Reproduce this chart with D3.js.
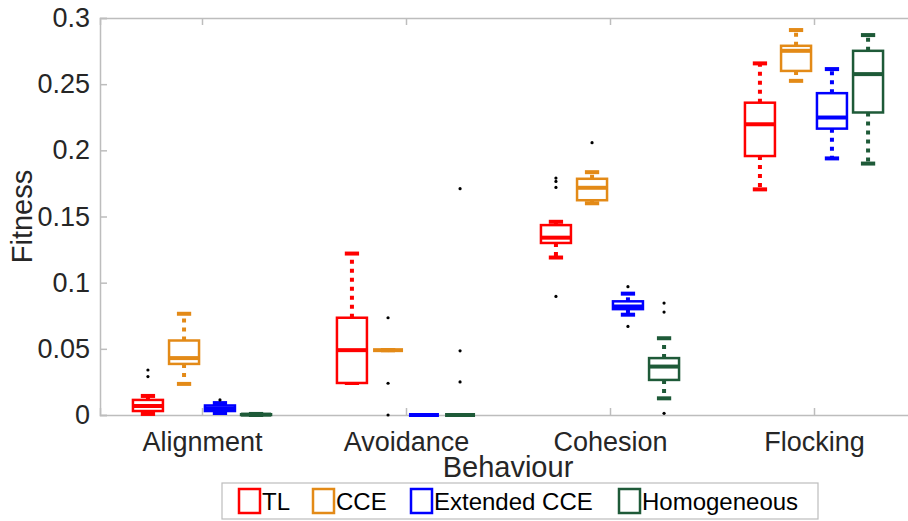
<!DOCTYPE html>
<html>
<head>
<meta charset="utf-8">
<script src="https://cdn.jsdelivr.net/npm/d3@7"></script>
<style>
  html, body { margin: 0; padding: 0; background: #fff; }
  svg { display: block; font-family: "Liberation Sans", Arial, Helvetica, sans-serif; }
</style>
</head>
<body>
<svg id="chart" width="908" height="521"></svg>
<script>
// Behaviour categories along the x axis
const behaviours = ["Alignment", "Avoidance", "Cohesion", "Flocking"];
// Methods compared within each behaviour
const methods = ["TL", "CCE", "Extended CCE", "Homogeneous"];
const methodColors = ["#ff0000", "#e38a17", "#0000ff", "#1e5a38"];
const yTicks = [0, 0.05, 0.1, 0.15, 0.2, 0.25, 0.3];

// Box statistics per behaviour: [lower whisker, Q1, median, Q3, upper whisker]
const tlStats = [
  [0.0008, 0.003, 0.0068, 0.0114, 0.0144],
  [0.0242, 0.0242, 0.049, 0.0735, 0.122],
  [0.119, 0.130, 0.134, 0.1435, 0.146],
  [0.1705, 0.1957, 0.2197, 0.236, 0.2657]
];
const cceStats = [
  [0.0235, 0.0386, 0.043, 0.0563, 0.0765],
  [0.049, 0.049, 0.049, 0.049, 0.049],
  [0.160, 0.1623, 0.1717, 0.1785, 0.1835],
  [0.2525, 0.260, 0.2752, 0.279, 0.2909]
];
const extCceStats = [
  [0.0015, 0.003, 0.005, 0.0072, 0.009],
  [0, 0, 0, 0, 0],
  [0.0758, 0.080, 0.082, 0.0859, 0.0917],
  [0.1939, 0.2164, 0.2248, 0.2432, 0.2614]
];
const homogeneousStats = [
  [0, 0, 0.0003, 0.0006, 0.0008],
  [0, 0, 0, 0, 0],
  [0.0126, 0.0265, 0.0366, 0.043, 0.058],
  [0.190, 0.2286, 0.2576, 0.2752, 0.2871]
];

// Outliers: [behaviour index, fitness]
const tlOutliers = [[0, 0.034], [0, 0.029], [2, 0.179], [2, 0.1765], [2, 0.172], [2, 0.0896]];
const cceOutliers = [[1, 0.0735], [1, 0.024], [1, 0], [2, 0.2058]];
const extCceOutliers = [[0, 0.0114], [2, 0.097], [2, 0.0669]];
const homogeneousOutliers = [[1, 0.171], [1, 0.0485], [1, 0.025], [2, 0.0846], [2, 0.0778], [2, 0.0013]];

const allStats = [tlStats, cceStats, extCceStats, homogeneousStats];
const allOutliers = [tlOutliers, cceOutliers, extCceOutliers, homogeneousOutliers];

const svg = d3.select("#chart");
const plot = { left: 100, right: 916, top: 18, bottom: 415 };
const axisColor = "#bdbdbd";
const textColor = "#262626";

const x = d3.scaleLinear().domain([0.5, behaviours.length + 0.5]).range([plot.left, plot.right]);
const y = d3.scaleLinear().domain([0, 0.3]).range([plot.bottom, plot.top]);

// Within-group offsets (in category units) and box width
const groupOffsets = [-0.265, -0.088, 0.088, 0.265];
const boxW = 0.147;
const capW = 0.07;

// Axes frame
const gx = svg.append("g").attr("transform", `translate(0,${plot.bottom})`)
  .call(d3.axisBottom(x).tickValues(d3.range(1, behaviours.length + 1))
    .tickFormat(i => behaviours[i - 1]).tickSize(-7).tickPadding(17));
const gxTop = svg.append("g").attr("transform", `translate(0,${plot.top})`)
  .call(d3.axisTop(x).tickValues(d3.range(1, behaviours.length + 1))
    .tickFormat("").tickSize(-7));
const gy = svg.append("g").attr("transform", `translate(${plot.left},0)`)
  .call(d3.axisLeft(y).tickValues(yTicks).tickFormat(d3.format("~g")).tickSize(-7).tickPadding(10));

[gx, gxTop, gy].forEach(g => {
  g.select(".domain").attr("stroke", axisColor).attr("stroke-width", 1.5);
  g.selectAll(".tick line").attr("stroke", axisColor).attr("stroke-width", 1.5);
  g.selectAll(".tick text").attr("fill", textColor).attr("font-size", 27)
    .attr("font-family", "Liberation Sans, Arial, sans-serif");
});

// Boxes
allStats.forEach((stats, m) => {
  const color = methodColors[m];
  const g = svg.append("g").attr("class", "series");
  stats.forEach((s, i) => {
    const cx = x(i + 1 + groupOffsets[m]);
    const halfW = (x(boxW) - x(0)) / 2;
    const halfCap = (x(capW) - x(0)) / 2;
    const [lo, q1, med, q3, hi] = s;
    // whiskers (dotted)
    g.append("line").attr("x1", cx).attr("x2", cx).attr("y1", y(q3)).attr("y2", y(hi))
      .attr("stroke", color).attr("stroke-width", 4).attr("stroke-dasharray", "4,5");
    g.append("line").attr("x1", cx).attr("x2", cx).attr("y1", y(q1)).attr("y2", y(lo))
      .attr("stroke", color).attr("stroke-width", 4).attr("stroke-dasharray", "4,5");
    // caps
    [lo, hi].forEach(v => {
      g.append("line").attr("x1", cx - halfCap).attr("x2", cx + halfCap)
        .attr("y1", y(v)).attr("y2", y(v))
        .attr("stroke", color).attr("stroke-width", 4);
    });
    // box
    g.append("rect").attr("x", cx - halfW).attr("width", 2 * halfW)
      .attr("y", y(q3)).attr("height", Math.max(0, y(q1) - y(q3)))
      .attr("fill", "#fff").attr("stroke", color).attr("stroke-width", 2.5);
    // median
    g.append("line").attr("x1", cx - halfW).attr("x2", cx + halfW)
      .attr("y1", y(med)).attr("y2", y(med))
      .attr("stroke", color).attr("stroke-width", 4);
  });
});

// Outliers
allOutliers.forEach((pts, m) => {
  svg.append("g").selectAll("circle").data(pts).join("circle")
    .attr("cx", d => x(d[0] + 1 + groupOffsets[m]))
    .attr("cy", d => y(d[1]))
    .attr("r", 1.6)
    .attr("fill", "#000");
});

// Axis titles
svg.append("text").attr("x", (plot.left + plot.right) / 2).attr("y", 477)
  .attr("text-anchor", "middle").attr("font-size", 29).attr("fill", textColor)
  .text("Behaviour");
svg.append("text")
  .attr("transform", `translate(32,${(plot.top + plot.bottom) / 2}) rotate(-90)`)
  .attr("text-anchor", "middle").attr("font-size", 29).attr("fill", textColor)
  .text("Fitness");

// Legend
const legend = svg.append("g");
legend.append("rect").attr("x", 222).attr("y", 483).attr("width", 596).attr("height", 36)
  .attr("fill", "#fff").attr("stroke", axisColor).attr("stroke-width", 1.2);
const legendX = [239, 313, 411, 619];
methods.forEach((name, m) => {
  legend.append("rect").attr("x", legendX[m]).attr("y", 489).attr("width", 21).attr("height", 24)
    .attr("fill", "none").attr("stroke", methodColors[m]).attr("stroke-width", 2.5);
  legend.append("text").attr("x", legendX[m] + 23).attr("y", 510)
    .attr("font-size", 24).attr("fill", "#000").text(name);
});
</script>
</body>
</html>
